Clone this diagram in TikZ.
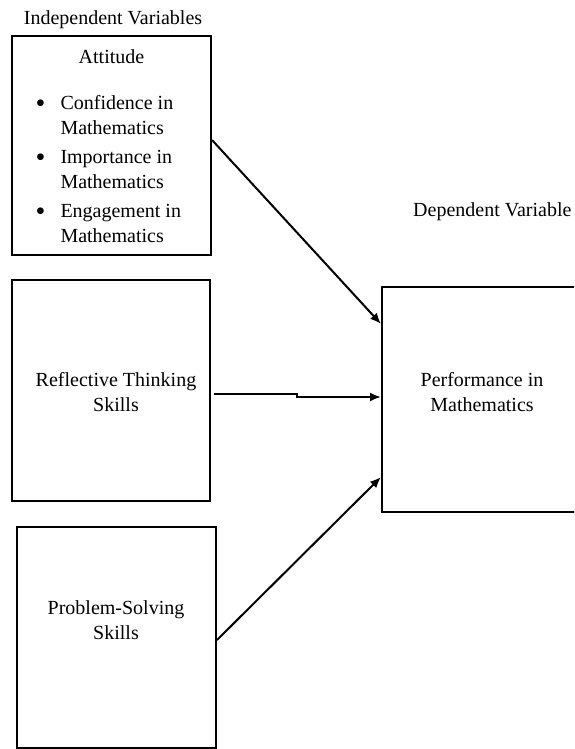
\documentclass[tikz,border=0pt]{standalone}
\usepackage{fontspec}
\setmainfont{Liberation Serif}
\usetikzlibrary{arrows.meta}
\tikzset{bx/.style={ draw, line width=2pt, rectangle, inner sep=0pt}}
\tikzset{ar/.style={ line width=2pt, -{Latex[length=11pt,width=9pt]}}}
\newcommand{\bul}{\raisebox{-2.6pt}{\scalebox{1.4}{\textbullet}}}

\begin{document}
\begin{tikzpicture}[x=1pt, y=-1pt, font=\fontsize{20}{25}\selectfont]
\tikzstyle{every node}=[align=center, inner sep=0pt]
\clip (0,0) rectangle (574,749);
% boxes
\node[bx, minimum width=199, minimum height=219] (att) at (111.5,145.5) {};
\node[bx, minimum width=198, minimum height=221] (refl) at (111,390.5) {};
\node[bx, minimum width=199, minimum height=221] (ps) at (116.5,637.5) {};
\node[bx, minimum width=200, minimum height=225] (perf) at (482,399.5) {};
% texts
\node[anchor=base] (indep) at (113,24.5) {Independent Variables};
\node[anchor=base west] (dep) at (413,216.5) {Dependent Variable};
\node[anchor=base] (atttitle) at (111.5,63.5) {Attitude};
\node[anchor=base west, align=left] (attlist) at (35.5,109.5)
 {\begin{tabular}[t]{@{}c@{\hspace{15pt}}l@{}}
  \bul & Confidence in\\ & Mathematics\\[4pt]
  \bul & Importance in\\ & Mathematics\\[4pt]
  \bul & Engagement in\\ & Mathematics
  \end{tabular}};
\node (refltext) at (116,392.5) {Reflective Thinking\\Skills};
\node (pstext) at (116,620) {Problem-Solving\\Skills};
\node (perftext) at (482,392) {Performance in\\Mathematics};
% arrows
\draw[ar] ([yshift=5.5pt]att.east) -- ([yshift=-38pt]perf.north west);
\draw[ar] ([xshift=3pt,yshift=-3.5pt]refl.east) -- ++(83,0) -- ++(0,3) -- ([yshift=2.5pt]perf.west);
\draw[ar] ([yshift=-2.5pt]ps.east) -- ([yshift=-77.5pt]perf.west);
\end{tikzpicture}
\end{document}
